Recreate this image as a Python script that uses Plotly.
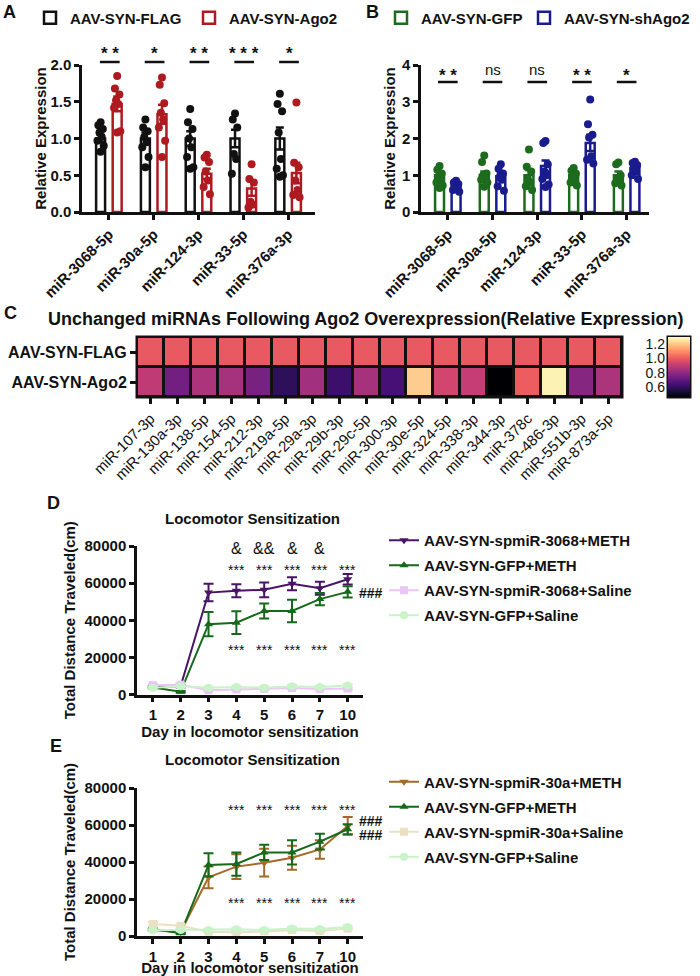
import numpy as np
import plotly.graph_objects as go

W, H = 700, 976

def fx(p):
	return p / W

def fy(p):
	return 1 - p / H

FONT = 'Liberation Sans, Arial, sans-serif'
NARROW = 'Liberation Sans Narrow, Arial Narrow, Liberation Sans, sans-serif'
BLACK = '#111111'

# ---------------- data: panels A and B
mirnas_ab = ['miR-3068-5p', 'miR-30a-5p', 'miR-124-3p', 'miR-33-5p', 'miR-376a-3p']

flag_mean = [1.00, 1.00, 1.00, 1.00, 1.00]
flag_sem = [0.05, 0.08, 0.10, 0.12, 0.15]
ago2_mean = [1.47, 1.33, 0.52, 0.32, 0.53]
ago2_sem = [0.10, 0.13, 0.07, 0.10, 0.14]
flag_pts = [
	[1.22, 1.18, 1.13, 1.08, 1.02, 0.97, 0.90, 0.82],
	[1.26, 1.15, 1.10, 1.02, 0.95, 0.88, 0.75, 0.61],
	[1.40, 1.22, 1.13, 1.00, 0.88, 0.75, 0.61, 0.59],
	[1.34, 1.26, 1.15, 0.79, 0.72, 0.52],
	[1.61, 1.47, 1.37, 1.08, 0.72, 0.59, 0.50, 0.48],
]
ago2_pts = [
	[1.85, 1.68, 1.60, 1.52, 1.47, 1.42, 1.10, 1.08],
	[1.83, 1.73, 1.48, 1.35, 1.26, 1.15, 0.97, 0.75],
	[0.78, 0.74, 0.68, 0.55, 0.43, 0.34, 0.24],
	[0.65, 0.45, 0.40, 0.14, 0.10, 0.06],
	[1.49, 0.67, 0.61, 0.43, 0.30, 0.23, 0.20],
]
sig_a = ['**', '*', '**', '***', '*']

gfp_mean = [1.00, 1.00, 1.00, 1.00, 1.00]
gfp_sem = [0.08, 0.10, 0.14, 0.07, 0.10]
sh_mean = [0.72, 0.97, 1.25, 1.88, 1.20]
sh_sem = [0.05, 0.10, 0.15, 0.22, 0.07]
gfp_pts = [
	[1.25, 1.15, 1.05, 0.95, 0.88, 0.80, 0.72, 0.65],
	[1.54, 1.36, 1.05, 1.00, 0.95, 0.88, 0.80, 0.69],
	[1.70, 1.23, 1.10, 0.90, 0.80, 0.70, 0.60],
	[1.20, 1.12, 1.05, 0.97, 0.90, 0.80, 0.72],
	[1.35, 1.30, 1.00, 0.90, 0.85, 0.78, 0.72],
]
sh_pts = [
	[0.85, 0.80, 0.76, 0.70, 0.65, 0.60, 0.55],
	[1.30, 1.18, 1.05, 0.95, 0.88, 0.70, 0.58],
	[1.93, 1.88, 1.30, 1.10, 1.00, 0.90, 0.75, 0.68],
	[3.06, 2.39, 2.10, 2.03, 1.52, 1.42, 1.32],
	[1.37, 1.33, 1.28, 1.20, 1.10, 1.00, 0.90],
]
sig_b = ['**', 'ns', 'ns', '**', '*']

# ---------------- data: panel C
heat_rows = ['AAV-SYN-FLAG', 'AAV-SYN-Ago2']
heat_cols = ['miR-107-3p', 'miR-130a-3p', 'miR-138-5p', 'miR-154-5p', 'miR-212-3p',
	'miR-219a-5p', 'miR-29a-3p', 'miR-29b-3p', 'miR-29c-5p', 'miR-300-3p',
	'miR-30e-5p', 'miR-324-5p', 'miR-338-3p', 'miR-344-3p', 'miR-378c',
	'miR-486-3p', 'miR-551b-3p', 'miR-873a-5p']
heat_flag = [1.00, 1.00, 1.00, 1.00, 1.00, 1.00, 1.00, 1.00, 1.00,
	1.00, 1.00, 1.00, 1.00, 1.00, 1.00, 1.00, 1.00, 1.00]
heat_ago2 = [0.90, 0.74, 0.86, 0.85, 0.75, 0.60, 0.84, 0.63, 0.85,
	0.65, 1.21, 0.94, 0.91, 0.46, 1.01, 1.28, 0.78, 0.86]
zmin, zmax = 0.46, 1.30
cbar_ticks = [0.6, 0.8, 1.0, 1.2]

# ---------------- data: panels D and E
days = ['1', '2', '3', '4', '5', '6', '7', '10']

d_names = ['AAV-SYN-spmiR-3068+METH', 'AAV-SYN-GFP+METH', 'AAV-SYN-spmiR-3068+Saline', 'AAV-SYN-GFP+Saline']
d_mean = [
	[3900, 4500, 54900, 55900, 56400, 59600, 57300, 62100],
	[3800, 1500, 37900, 38700, 45000, 45000, 51400, 55300],
	[5000, 5300, 2300, 2700, 3000, 3500, 3000, 3200],
	[3700, 4500, 3700, 4100, 3700, 4500, 4100, 4800],
]
d_sem = [
	[600, 700, 4700, 3500, 4000, 3500, 3500, 2800],
	[500, 400, 6500, 6100, 4000, 6100, 3300, 3000],
	[800, 800, 500, 500, 500, 600, 500, 600],
	[600, 700, 600, 600, 600, 700, 600, 700],
]

e_names = ['AAV-SYN-spmiR-30a+METH', 'AAV-SYN-GFP+METH', 'AAV-SYN-spmiR-30a+Saline', 'AAV-SYN-GFP+Saline']
e_mean = [
	[3300, 2200, 31700, 37500, 39600, 42300, 46800, 59500],
	[3600, 1500, 38400, 38900, 45200, 45200, 51000, 57700],
	[6500, 5500, 2300, 2000, 2500, 3200, 2700, 4000],
	[3100, 3200, 3300, 3700, 3300, 4100, 3800, 4800],
]
e_sem = [
	[500, 500, 5900, 6700, 7500, 6500, 5000, 4800],
	[500, 400, 6300, 6300, 4100, 6500, 4300, 2700],
	[900, 800, 500, 500, 500, 600, 500, 600],
	[600, 600, 600, 600, 600, 700, 600, 700],
]

d_colors = ['#4a1466', '#16691a', '#e9c6f3', '#c9f3c9']
e_colors = ['#a5692a', '#16691a', '#ece0c2', '#c9f3c9']
symbols = ['triangle-down', 'triangle-up', 'square', 'circle']

fig = go.Figure()

# ---------------- A and B: hollow bars + dots
jit = [0, -0.05, 0.05, -0.025, 0.025, -0.07, 0.07, 0.0]
off = 0.185

def bar_panel(means, sems, pts, color, name, shift, xa, ya, leg):
	xs = np.arange(len(means)) + shift
	fig.add_trace(go.Bar(
		x = xs, y = means, width = 0.2, name = name,
		marker = dict(color = 'white', line = dict(color = color, width = 2.5)),
		error_y = dict(type = 'data', array = sems, color = color, thickness = 2.5, width = 4),
		xaxis = xa, yaxis = ya, legend = leg,
		))
	px_, py_ = [], []
	for i, grp in enumerate(pts):
		for k, v in enumerate(grp):
			px_.append(xs[i] + jit[k % len(jit)])
			py_.append(v)
	fig.add_trace(go.Scatter(
		x = px_, y = py_, mode = 'markers', showlegend = False,
		marker = dict(color = color, size = 8),
		xaxis = xa, yaxis = ya, cliponaxis = False,
		))

bar_panel(flag_mean, flag_sem, flag_pts, BLACK, 'AAV-SYN-FLAG', -off, 'x', 'y', 'legend')
bar_panel(ago2_mean, ago2_sem, ago2_pts, '#ad1a1f', 'AAV-SYN-Ago2', off, 'x', 'y', 'legend5')
bar_panel(gfp_mean, gfp_sem, gfp_pts, '#1d6b1d', 'AAV-SYN-GFP', -off, 'x2', 'y2', 'legend2')
bar_panel(sh_mean, sh_sem, sh_pts, '#1a1c8e', 'AAV-SYN-shAgo2', off, 'x2', 'y2', 'legend6')

# ---------------- C: heatmap with a drawn colour bar
fig.add_trace(go.Heatmap(
	z = [heat_flag, heat_ago2], x = heat_cols, y = heat_rows,
	colorscale = 'Magma', zmin = zmin, zmax = zmax, showscale = False,
	xgap = 3, ygap = 3, xaxis = 'x3', yaxis = 'y3',
	))
cb = np.linspace(zmin, zmax, 120)
fig.add_trace(go.Heatmap(
	z = [[v] for v in cb], x = [0], y = cb,
	colorscale = 'Magma', zmin = zmin, zmax = zmax, showscale = False,
	xaxis = 'x4', yaxis = 'y4', hoverinfo = 'skip',
	))

# ---------------- D and E: line charts
def line_panel(names, means, sems, colors, xa, ya, leg):
	for k in range(len(names)):
		fig.add_trace(go.Scatter(
			x = days, y = means[k], name = names[k], mode = 'lines+markers',
			line = dict(color = colors[k], width = 2),
			marker = dict(symbol = symbols[k], size = 8, color = colors[k]),
			error_y = dict(type = 'data', array = sems[k], color = colors[k], thickness = 2, width = 5),
			xaxis = xa, yaxis = ya, legend = leg, legendgroup = leg + str(k),
			cliponaxis = False,
			))

line_panel(d_names, d_mean, d_sem, d_colors, 'x5', 'y5', 'legend3')
line_panel(e_names, e_mean, e_sem, e_colors, 'x6', 'y6', 'legend4')

# ---------------- annotations and shapes
ann = []
shapes = []

def text(x, y, s, size = 14, bold = True, xref = 'paper', color = BLACK, family = FONT, xanchor = 'center'):
	ann.append(dict(x = x, y = y, xref = xref, yref = 'paper', text = s, showarrow = False,
		xanchor = xanchor, yanchor = 'middle',
		font = dict(family = family, size = size, color = color, weight = 'bold' if bold else 'normal')))

for lab, x, y in [('A', 9, 12), ('B', 372, 12), ('C', 10, 313), ('D', 53, 503), ('E', 56, 746)]:
	text(fx(x), fy(y), lab, size = 18)

for i, s in enumerate(sig_a):
	text(i + 0.02, fy(54), ' '.join(s), size = 17, xref = 'x')
	shapes.append(dict(type = 'line', xref = 'x', yref = 'paper', x0 = i - 0.2, x1 = i + 0.24,
		y0 = fy(62), y1 = fy(62), line = dict(color = BLACK, width = 2.5)))
for i, s in enumerate(sig_b):
	if s == 'ns':
		text(i, fy(69), s, size = 15, bold = False, xref = 'x2')
	else:
		text(i, fy(75), ' '.join(s), size = 17, xref = 'x2')
	shapes.append(dict(type = 'line', xref = 'x2', yref = 'paper', x0 = i - 0.22, x1 = i + 0.22,
		y0 = fy(82), y1 = fy(82), line = dict(color = BLACK, width = 2.5)))

text(fx(365), fy(319), 'Unchanged miRNAs Following Ago2 Overexpression(Relative Expression)', size = 18)
text(fx(252), fy(518), 'Locomotor Sensitization', size = 15)
text(fx(252), fy(759), 'Locomotor Sensitization', size = 15)

for d, s in zip(['3', '4', '5', '6'], ['&', '&&', '&', '&']):
	text(d, fy(548), s, size = 16, bold = False, xref = 'x5')
for d in days[2:]:
	text(d, fy(570), '***', size = 14, bold = False, xref = 'x5')
	text(d, fy(650), '***', size = 14, bold = False, xref = 'x5')
	text(d, fy(810), '***', size = 14, bold = False, xref = 'x6')
	text(d, fy(903), '***', size = 14, bold = False, xref = 'x6')
text(fx(357), fy(593), '###', size = 14, xanchor = 'left')
text(fx(357), fy(821), '###', size = 14, xanchor = 'left')
text(fx(357), fy(835), '###', size = 14, xanchor = 'left')

# black backing behind the heatmap gives the cell borders
for xa, ya in [('x3', 'y3'), ('x4', 'y4')]:
	shapes.append(dict(type = 'rect', xref = xa + ' domain', yref = ya + ' domain',
		x0 = 0, x1 = 1, y0 = 0, y1 = 1, fillcolor = BLACK, layer = 'below',
		line = dict(color = BLACK, width = 3)))

# ---------------- axes
tick_font = dict(family = FONT, size = 15, color = BLACK, weight = 'bold')
title_font = dict(family = FONT, size = 15, color = BLACK, weight = 'bold')
ax = dict(showline = True, linewidth = 2.5, linecolor = BLACK, ticks = 'outside', ticklen = 5,
	tickwidth = 2.5, tickcolor = BLACK, showgrid = False, zeroline = False, tickfont = tick_font,
	automargin = False)

layout_axes = dict(
	xaxis = dict(ax, domain = [fx(82), fx(315)], range = [-0.6, 4.6], anchor = 'y',
		tickvals = list(range(5)), ticktext = mirnas_ab, tickangle = -45),
	yaxis = dict(ax, domain = [fy(212), fy(65)], range = [0, 2.0], dtick = 0.5, tickformat = '.1f',
		anchor = 'x', title = dict(text = 'Relative Expression', font = title_font, standoff = 1)),
	xaxis2 = dict(ax, domain = [fx(421), fx(649)], range = [-0.6, 4.5], anchor = 'y2',
		tickvals = list(range(5)), ticktext = mirnas_ab, tickangle = -45),
	yaxis2 = dict(ax, domain = [fy(212), fy(65)], range = [0, 4], dtick = 1,
		anchor = 'x2', title = dict(text = 'Relative Expression', font = title_font, standoff = 3)),
	xaxis3 = dict(domain = [fx(137), fx(622)], anchor = 'y3', showline = False, ticks = 'outside',
		ticklen = 6, tickwidth = 2.5, tickcolor = BLACK, tickangle = -45, showgrid = False,
		automargin = False, tickfont = dict(family = NARROW, size = 15, color = BLACK)),
	yaxis3 = dict(domain = [fy(397), fy(337)], anchor = 'x3', autorange = 'reversed', showline = False,
		ticks = 'outside', ticklen = 6, tickwidth = 2.5, tickcolor = BLACK, showgrid = False,
		automargin = False, tickfont = dict(family = FONT, size = 16, color = BLACK, weight = 'bold')),
	xaxis4 = dict(domain = [fx(668), fx(690)], anchor = 'y4', showticklabels = False,
		showgrid = False, zeroline = False, ticks = '', automargin = False),
	yaxis4 = dict(domain = [fy(397), fy(337)], anchor = 'x4', range = [zmin, zmax],
		tickvals = cbar_ticks, tickformat = '.1f', ticks = '', ticklen = 0, ticklabelstandoff = 2,
		showgrid = False, zeroline = False, automargin = False,
		tickfont = dict(family = NARROW, size = 14, color = BLACK)),
	xaxis5 = dict(ax, domain = [fx(137), fx(363)], range = [-0.57, 7.55], anchor = 'y5', type = 'category',
		title = dict(text = 'Day in locomotor sensitization', font = title_font, standoff = 0)),
	yaxis5 = dict(ax, domain = [fy(694.5), fy(546)], range = [0, 80000], dtick = 20000, tickformat = 'd',
		anchor = 'x5', title = dict(text = 'Total Distance Traveled(cm)', font = title_font, standoff = 6)),
	xaxis6 = dict(ax, domain = [fx(137), fx(363)], range = [-0.57, 7.55], anchor = 'y6', type = 'category',
		title = dict(text = 'Day in locomotor sensitization', font = title_font, standoff = 0)),
	yaxis6 = dict(ax, domain = [fy(936), fy(788)], range = [0, 80000], dtick = 20000, tickformat = 'd',
		anchor = 'x6', title = dict(text = 'Total Distance Traveled(cm)', font = title_font, standoff = 6)),
)

leg_font = dict(family = FONT, size = 15, color = BLACK, weight = 'bold')

def hleg(x):
	return dict(orientation = 'h', x = fx(x), y = fy(18), xanchor = 'left', yanchor = 'middle',
		font = leg_font, bgcolor = 'rgba(0,0,0,0)')

legends = dict(
	legend = hleg(30), legend5 = hleg(189),
	legend2 = hleg(381), legend6 = hleg(524),
	legend3 = dict(x = fx(384), y = fy(524), xanchor = 'left', yanchor = 'top', font = leg_font,
		tracegroupgap = 2.5, bgcolor = 'rgba(0,0,0,0)'),
	legend4 = dict(x = fx(384), y = fy(765.5), xanchor = 'left', yanchor = 'top', font = leg_font,
		tracegroupgap = 2.5, bgcolor = 'rgba(0,0,0,0)'),
)

fig.update_layout(
	template = 'none',
	width = W, height = H,
	margin = dict(l = 0, r = 0, t = 0, b = 0, autoexpand = False),
	paper_bgcolor = 'white', plot_bgcolor = 'rgba(0,0,0,0)',
	font = dict(family = FONT, color = BLACK),
	barmode = 'overlay',
	annotations = ann, shapes = shapes,
	**layout_axes, **legends,
	)

fig.write_html('out.html', config = {'displayModeBar': False},
	post_script = "document.body.style.margin = '0px';")
